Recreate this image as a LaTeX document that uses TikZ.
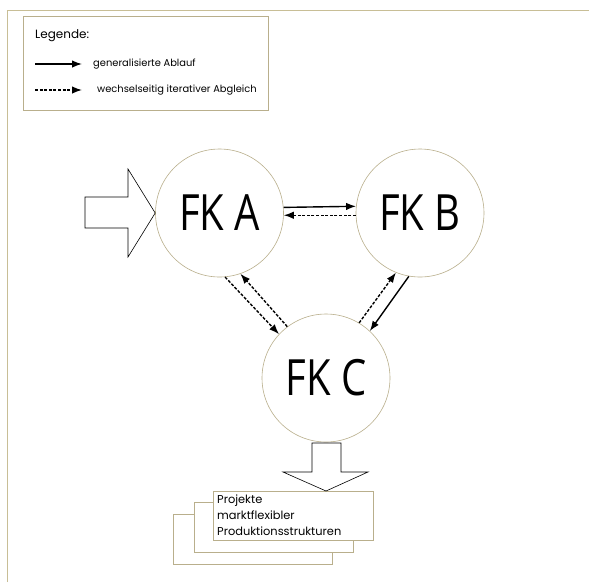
\documentclass[tikz,border=0pt]{standalone}
\usepackage{fontspec}
\setmainfont{Poppins}
\newfontfamily\bigfont{Open Sans}
\usetikzlibrary{arrows.meta}
\definecolor{framecol}{RGB}{200,190,150}
\definecolor{circcol}{RGB}{185,175,140}
\tikzset{
  fk/.style={circle, draw=circcol, line width=0.6pt, fill=white, minimum size=128pt, inner sep=0pt, font=\bigfont\fontsize{50}{50}\selectfont},
  solidarr/.style={line width=1.4pt, -{Latex[length=10pt,width=7.5pt]}},
  dasharr/.style={line width=1.4pt, dash pattern=on 3pt off 1.6pt, -{Latex[length=10pt,width=7.5pt]}},
  bigarrow/.style={draw=black, line width=0.6pt, fill=white, line join=miter},
  stackbox/.style={draw=circcol, line width=0.6pt, fill=white},
  legtext/.style={anchor=west, inner sep=0pt, font=\fontsize{9.9}{12}\selectfont},
}
\begin{document}
\begin{tikzpicture}[x=1pt,y=-1pt]
\useasboundingbox (0,0) rectangle (589,582);
% outer frame
\draw[framecol, line width=0.7pt] (7,582) -- (7,10) -- (589,10);
% legend
\draw[draw=circcol, line width=0.6pt] (23,16) rectangle (268,110);
\node[legtext, font=\fontsize{12}{14}\selectfont] (leg) at (35,36) {Legende:};
\coordinate (s1) at (35,64);
\coordinate (s2) at (82,64);
\draw[solidarr] (s1) -- (s2);
\node[legtext] (l1) at (93,64) {generalisierte Ablauf};
\coordinate (d1) at (35,90);
\coordinate (d2) at (82,90);
\draw[dasharr] (d1) -- (d2);
\node[legtext] (l2) at (97,90) {wechselseitig iterativer Abgleich};
% circles
\node[fk] (A) at (219.5,213) {\scalebox{0.8}[1]{FK A}};
\node[fk] (B) at (420,213) {\scalebox{0.8}[1]{FK B}};
\node[fk] (C) at (326,378) {\scalebox{0.8}[1]{FK C}};
% input arrow
\draw[bigarrow] (85,197) -- (128,197) -- (128,169) -- (A.west) -- (128,257) -- (128,228) -- (85,228) -- cycle;
% connectors
\draw[solidarr] (A.5.4) -- (B.174.7);
\draw[dasharr] (B.182.7) -- (A.-2.7);
\draw[dasharr] (A.-85) -- (C.137);
\draw[dasharr] (C.127) -- (A.-71);
\draw[dasharr] (C.59.5) -- (B.-112.6);
\draw[solidarr] (B.-100.5) -- (C.47.5);
% stacked boxes
\draw[stackbox] (173,514) rectangle (332,564);
\draw[stackbox] (194,502) rectangle (353,552);
\node[stackbox, minimum width=160pt, minimum height=49pt, anchor=north west, inner sep=0pt] (P) at (213,491) {};
\node[anchor=north west, align=left, inner sep=0pt, font=\fontsize{11.4}{16.2}\selectfont] (Pt) at (217,494.5) {Projekte\\marktflexibler\\Produktionsstrukturen};
% output arrow
\draw[bigarrow] (312,443) -- (341,443) -- (341,472) -- (368,472) -- (P.north -| C.south) -- (283,472) -- (312,472) -- cycle;
\end{tikzpicture}
\end{document}
